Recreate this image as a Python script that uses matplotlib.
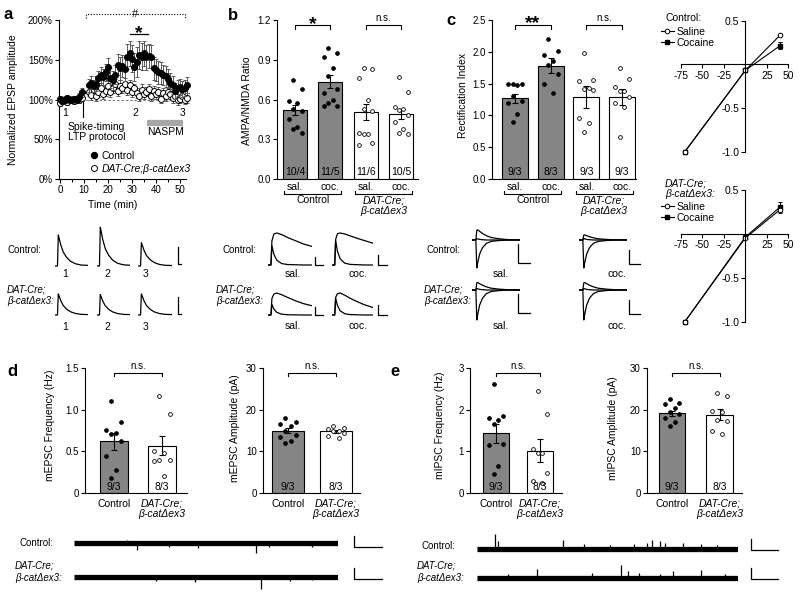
import matplotlib
matplotlib.use('Agg')
import matplotlib.pyplot as plt
import matplotlib.transforms as mtransforms
from matplotlib.lines import Line2D
import numpy as np

plt.rcParams['font.family'] = ['Liberation Sans', 'DejaVu Sans']
plt.rcParams['font.size'] = 7
plt.rcParams['axes.unicode_minus'] = False
plt.rcParams['axes.linewidth'] = 0.8
plt.rcParams['xtick.major.width'] = 0.8
plt.rcParams['ytick.major.width'] = 0.8
plt.rcParams['xtick.major.size'] = 3
plt.rcParams['ytick.major.size'] = 3
plt.rcParams['xtick.labelsize'] = 7
plt.rcParams['ytick.labelsize'] = 7
plt.rcParams['xtick.major.pad'] = 1.5
plt.rcParams['ytick.major.pad'] = 1.5

W, H = 800, 596
GRAY = '#858585'
FS = 7

# ---- panel a: LTP time course ----
ltp_time = list(range(0, 10)) + list(range(12, 54))
ctrl_ltp = [101, 98, 100, 102, 99, 100, 101, 100, 103, 109,
            118, 121, 117, 120, 127, 131, 128, 134, 141, 127,
            124, 131, 144, 139, 142, 138, 154, 158, 151, 141,
            147, 156, 154, 158, 153, 155, 154, 139, 137, 134,
            133, 131, 129, 126, 121, 118, 111, 114, 116, 113,
            115, 118]
ctrl_err = [4, 4, 4, 4, 4, 4, 4, 4, 5, 6,
            8, 8, 8, 9, 9, 10, 10, 11, 11, 12,
            12, 12, 13, 14, 14, 15, 16, 16, 17, 18,
            19, 18, 17, 16, 16, 15, 15, 15, 14, 14,
            14, 13, 13, 12, 12, 11, 10, 10, 10, 10,
            10, 10]
dat_ltp = [96, 98, 100, 97, 99, 101, 98, 100, 99, 102,
           110, 106, 112, 104, 109, 114, 107, 111, 117, 109,
           114, 119, 111, 117, 114, 120, 112, 118, 109, 114,
           108, 104, 112, 107, 110, 113, 104, 111, 107, 110,
           101, 108, 104, 110, 107, 102, 105, 99, 101, 104,
           100, 102]
dat_err = [4, 4, 3, 4, 4, 3, 4, 4, 4, 4,
           6, 6, 7, 6, 6, 7, 6, 6, 7, 6,
           6, 7, 6, 7, 6, 7, 6, 7, 6, 6,
           6, 6, 7, 6, 6, 6, 6, 6, 6, 6,
           6, 6, 6, 6, 6, 6, 6, 6, 6, 6,
           6, 6]

# ---- panel b: AMPA/NMDA ----
b_groups = ['sal.', 'coc.', 'sal.', 'coc.']
b_vals = [0.52, 0.735, 0.505, 0.49]
b_sem = [0.04, 0.05, 0.06, 0.04]
b_pts = [[0.75, 0.68, 0.59, 0.57, 0.53, 0.51, 0.45, 0.39, 0.38, 0.35],
         [0.99, 0.95, 0.92, 0.84, 0.78, 0.68, 0.65, 0.60, 0.57, 0.55, 0.55],
         [0.84, 0.83, 0.76, 0.60, 0.53, 0.51, 0.35, 0.34, 0.34, 0.27, 0.26],
         [0.77, 0.66, 0.54, 0.53, 0.52, 0.48, 0.43, 0.38, 0.35, 0.34]]
b_n = ['10/4', '11/5', '11/6', '10/5']

# ---- panel c: rectification ----
c_vals = [1.27, 1.78, 1.29, 1.29]
c_sem = [0.07, 0.12, 0.17, 0.12]
c_pts = [[1.50, 1.50, 1.50, 1.48, 1.30, 1.22, 1.20, 1.02, 0.90],
         [2.20, 2.01, 1.95, 1.85, 1.80, 1.65, 1.50, 1.36],
         [1.98, 1.56, 1.54, 1.43, 1.41, 1.40, 0.96, 0.88, 0.74],
         [1.74, 1.58, 1.45, 1.39, 1.38, 1.29, 1.19, 1.13, 0.66]]
c_n = ['9/3', '8/3', '9/3', '9/3']

iv_mv = [-70, 0, 40]
ctrl_sal_iv = [-1.0, -0.07, 0.33]
ctrl_sal_err = [0, 0.01, 0.01]
ctrl_coc_iv = [-1.0, -0.07, 0.21]
ctrl_coc_err = [0, 0.01, 0.04]
dat_sal_iv = [-1.0, -0.05, 0.27]
dat_sal_err = [0, 0.01, 0.02]
dat_coc_iv = [-1.0, -0.04, 0.30]
dat_coc_err = [0, 0.01, 0.06]

# ---- panels d, e ----
de_groups = ['Control', 'DAT-Cre;\nβ-catΔex3']
d_freq_vals = [0.62, 0.57]
d_freq_sem = [0.10, 0.11]
d_freq_pts = [[1.11, 0.85, 0.76, 0.72, 0.71, 0.62, 0.44, 0.28, 0.18],
              [1.17, 0.95, 0.50, 0.48, 0.40, 0.40, 0.38, 0.20]]
d_amp_vals = [15.0, 14.8]
d_amp_sem = [0.7, 0.4]
d_amp_pts = [[18.0, 17.0, 16.6, 16.0, 15.0, 14.0, 13.5, 12.5, 12.0],
             [16.0, 15.6, 15.3, 15.0, 14.8, 14.5, 13.6, 13.2]]
e_freq_vals = [1.43, 1.02]
e_freq_sem = [0.22, 0.28]
e_freq_pts = [[2.62, 1.85, 1.80, 1.75, 1.65, 1.17, 1.15, 0.65, 0.45],
              [2.45, 1.90, 1.05, 0.95, 0.95, 0.48, 0.28, 0.25]]
e_amp_vals = [19.1, 18.8]
e_amp_sem = [0.7, 1.3]
e_amp_pts = [[22.5, 21.5, 21.3, 20.5, 19.5, 19.0, 18.0, 17.0, 16.2],
             [24.0, 23.4, 19.8, 19.4, 17.5, 17.2, 14.8, 14.2]]
de_n = ['9/3', '8/3']

# ---- example traces (shapes) ----
epsp_t = [0, 3, 4, 5, 7, 10, 14, 19, 25, 32, 40]
epsp_v = [0, 0, 1.0, 0.9, 0.68, 0.45, 0.28, 0.15, 0.07, 0.03, 0.02]
ctrl_epsp_amp = [1.0, 1.25, 0.75]
dat_epsp_amp = [0.68, 0.66, 0.68]

an_t = [0, 3, 4, 6, 9, 14, 20, 28, 36, 45]
an_fast = [0, 0, 0.8, 0.45, 0.2, 0.06, 0.02, 0.01, 0, 0]
an_fast_amp = [0.75, 0.95, 0.6, 0.95]
an_slow_ctrl_sal = [0, 0, 0.75, 0.97, 1.0, 0.95, 0.86, 0.76, 0.66, 0.58]
an_slow_ctrl_coc = [0, 0, 0.8, 0.98, 1.0, 0.97, 0.91, 0.83, 0.76, 0.68]
an_slow_dat_sal = [0, 0, 0.75, 0.95, 1.0, 0.92, 0.8, 0.65, 0.52, 0.42]
an_slow_dat_coc = [0, 0, 0.8, 0.97, 1.0, 0.9, 0.76, 0.6, 0.46, 0.34]

rect_t = [0, 4, 5, 6, 8, 11, 15, 20, 28, 38, 50]
rect_neg = [0, 0, -1.0, -0.8, -0.5, -0.27, -0.12, -0.05, -0.02, 0, 0]
rect_pos = [0, 0, 0.32, 0.33, 0.28, 0.21, 0.14, 0.08, 0.04, 0.01, 0]
rect_zero = [0, 0, 0.05, 0.04, 0.02, 0.01, 0, 0, 0, 0, 0]
rect_pos_amp = [1.1, 0.55, 0.75, 0.75]

# spontaneous events: position along trace (0-1) and size
d_ctrl_ev = [0.2, 0.24, 0.36, 0.47, 0.69, 0.74, 0.9]
d_ctrl_amp = [3, -7, -4, -5, -10, -4, -4]
d_dat_ev = [0.31, 0.46, 0.71, 0.82, 0.9]
d_dat_amp = [-4, -5, -12, -4, -3]
e_ctrl_ev = [0.07, 0.08, 0.33, 0.41, 0.51, 0.6, 0.65, 0.67, 0.7, 0.72, 0.79, 0.86, 0.92]
e_ctrl_amp = [15, 8, 9, 5, 4, 5, 6, 9, 8, 6, 6, 5, 4]
e_dat_ev = [0.12, 0.23, 0.44, 0.55, 0.58, 0.62, 0.7, 0.75, 0.86, 0.95]
e_dat_amp = [4, 9, 5, 13, 7, 5, 4, 7, 8, 4]

fig = plt.figure(figsize=(8, 5.96), dpi=100)


def px_axes(x0, y0, x1, y1):
    return fig.add_axes([x0 / W, 1 - y1 / H, (x1 - x0) / W, (y1 - y0) / H])


def ftext(x, y, s, **kw):
    kw.setdefault('va', 'center')
    fig.text(x / W, 1 - y / H, s, **kw)


ov = px_axes(0, 0, W, H)
ov.set_xlim(0, W)
ov.set_ylim(H, 0)
ov.axis('off')


def scalebar(x, y_top, y_bot, x_end):
    ov.plot([x, x, x_end], [y_top, y_bot, y_bot], color='k', lw=0.9)


def clean(ax):
    ax.spines['top'].set_visible(False)
    ax.spines['right'].set_visible(False)


def bracket(ax, x0, x1, y, drop, text, ty, star=False):
    ax.plot([x0, x0, x1, x1], [y - drop, y, y, y - drop], color='k', lw=0.8, clip_on=False)
    if star:
        ax.text((x0 + x1) / 2, ty, text, ha='center', va='baseline', fontsize=14,
                fontweight='bold', clip_on=False)
    else:
        ax.text((x0 + x1) / 2, ty, text, ha='center', va='center', fontsize=FS, clip_on=False)


OFFS = [-0.09, 0.27, -0.27, 0.09]


def bar_panel(ax, vals, sems, pts, filled, nlab, width, xlim, ylim, yticks, ytl):
    for i, v in enumerate(vals):
        ax.bar(i, v, width, color=GRAY if filled[i] else 'white', edgecolor='k',
               linewidth=0.8, zorder=1)
    ax.errorbar(range(len(vals)), vals, yerr=sems, fmt='none', ecolor='k',
                elinewidth=0.8, capsize=2.5, capthick=0.8, zorder=3)
    for i, p in enumerate(pts):
        p = sorted(p, reverse=True)
        xs = [i + OFFS[k % 4] * width for k in range(len(p))]
        ax.plot(xs, p, 'o', ms=2.7, mfc='k' if filled[i] else 'white', mec='k',
                mew=0.6, ls='none', zorder=4, clip_on=False)
        ax.text(i, ylim[1] * 0.012, nlab[i], ha='center', va='bottom', fontsize=7.5, zorder=5)
    ax.set_xlim(*xlim)
    ax.set_ylim(*ylim)
    ax.set_yticks(yticks)
    ax.set_yticklabels(ytl)
    clean(ax)


# ================= panel a =================
ax = px_axes(59, 20, 186, 179)
ax.plot([11, 53], [100, 100], ls=(0, (2.5, 2)), color='0.45', lw=0.7, zorder=1)
ax.errorbar(ltp_time, dat_ltp, yerr=dat_err, fmt='o', ms=4.3, mfc='white', mec='k',
            mew=0.7, ecolor='0.35', elinewidth=0.7, capsize=1.5, capthick=0.7,
            zorder=3, clip_on=False)
ax.errorbar(ltp_time, ctrl_ltp, yerr=ctrl_err, fmt='o', ms=4.3, mfc='k', mec='k',
            mew=0.7, ecolor='0.35', elinewidth=0.7, capsize=1.5, capthick=0.7,
            zorder=4, clip_on=False)
ax.set_xlim(-0.4, 52.5)
ax.set_ylim(0, 200)
ax.set_yticks([0, 50, 100, 150, 200])
ax.set_yticklabels(['0%', '50%', '100%', '150%', '200%'])
ax.set_xticks(range(0, 51, 10))
ax.set_xticks(range(5, 51, 10), minor=True)
ax.tick_params(which='minor', length=2, width=0.8)
ax.spines['bottom'].set_bounds(0, 52.5)
clean(ax)
ax.plot([9.5, 9.5], [78, 100], color='k', lw=0.8)
ax.text(2, 83, '1', ha='center', va='center', fontsize=7.5)
ax.text(31.6, 83, '2', ha='center', va='center', fontsize=7.5)
ax.text(51, 83, '3', ha='center', va='center', fontsize=7.5)
ax.text(3.2, 65, 'Spike-timing', ha='left', va='center', fontsize=7.5)
ax.text(3.2, 53, 'LTP protocol', ha='left', va='center', fontsize=7.5)
ax.plot([36.4, 51.3], [70, 70], color='0.65', lw=4.5, solid_capstyle='butt')
ax.text(43.8, 59, 'NASPM', ha='center', va='center', fontsize=7.5)
ax.plot([29.3, 36.8], [182, 182], color='k', lw=0.9, clip_on=False)
ax.text(33, 177, '*', ha='center', va='baseline', fontsize=14, fontweight='bold', clip_on=False)
ax.plot([10.8, 10.8, 52, 52], [203, 207, 207, 203], ls=(0, (1, 1.5)), color='k', lw=0.8,
        clip_on=False)
ax.text(31.2, 207, '#', ha='center', va='center', fontsize=8,
        bbox=dict(fc='white', ec='none', pad=0.3), clip_on=False)
h1 = Line2D([], [], ls='none', marker='o', ms=4.3, mfc='k', mec='k')
h2 = Line2D([], [], ls='none', marker='o', ms=4.3, mfc='white', mec='k', mew=0.7)
leg = ax.legend([h1, h2], ['Control', 'DAT-Cre;β-catΔex3'], loc='upper left',
                bbox_to_anchor=(90 / W, 1 - 151 / H), bbox_transform=fig.transFigure,
                frameon=False, handlelength=0.8, handletextpad=0.35, labelspacing=0.25,
                borderpad=0, borderaxespad=0, fontsize=7.5)
leg.get_texts()[1].set_style('italic')
ftext(13, 100, 'Normalized EPSP amplitude', rotation=90, ha='center', fontsize=7.5)
ftext(113, 205, 'Time (min)', ha='center', fontsize=7.5)

# ================= panel b =================
ax = px_axes(277, 20, 418, 179)
bar_panel(ax, b_vals, b_sem, b_pts, [True, True, False, False], b_n, 0.68,
          (-0.51, 3.48), (0, 1.2), [0, 0.3, 0.6, 0.9, 1.2],
          ['0.0', '0.3', '0.6', '0.9', '1.2'])
ax.set_xticks(range(4))
ax.set_xticklabels(b_groups, fontsize=7.5)
ax.tick_params(axis='x', length=0, pad=2)
bracket(ax, 0, 1, 1.16, 0.03, '*', 1.13, star=True)
bracket(ax, 2, 3, 1.16, 0.03, 'n.s.', 1.215)
ftext(247, 101, 'AMPA/NMDA Ratio', rotation=90, ha='center', fontsize=7.5)

# ================= panel c =================
axc = px_axes(492, 20, 636, 179)
bar_panel(axc, c_vals, c_sem, c_pts, [True, True, False, False], c_n, 0.73,
          (-0.645, 3.39), (0, 2.5), [0, 0.5, 1.0, 1.5, 2.0, 2.5],
          ['0.0', '0.5', '1.0', '1.5', '2.0', '2.5'])
axc.set_xticks(range(4))
axc.set_xticklabels(b_groups, fontsize=7.5)
axc.tick_params(axis='x', length=0, pad=2)
bracket(axc, 0, 1, 2.42, 0.06, '**', 2.37, star=True)
bracket(axc, 2, 3, 2.42, 0.06, 'n.s.', 2.53)
ftext(463, 95, 'Rectification Index', rotation=90, ha='center', fontsize=7.5)

for a_ in (ax, axc):
    tr = mtransforms.blended_transform_factory(a_.transData, fig.transFigure)
    for g0, lab, sty in ((0, 'Control', 'normal'), (2, 'DAT-Cre;\nβ-catΔex3', 'italic')):
        a_.plot([g0 - 0.3, g0 - 0.3, g0 + 1.3, g0 + 1.3],
                [1 - 191 / H, 1 - 193.5 / H, 1 - 193.5 / H, 1 - 191 / H],
                color='k', lw=0.8, transform=tr, clip_on=False)
        a_.text(g0 + 0.5, 1 - 195 / H, lab, ha='center', va='top', style=sty,
                transform=tr, linespacing=1.1, fontsize=7.5)


# ================= I-V curves =================
def iv_panel(ax, sal, sal_err, coc, coc_err):
    ax.errorbar(iv_mv, coc, yerr=coc_err, marker='s', ms=3, mfc='k', mec='k',
                color='k', lw=0.8, elinewidth=0.7, capsize=1.5, capthick=0.7, clip_on=False)
    ax.errorbar(iv_mv, sal, yerr=sal_err, marker='o', ms=3.3, mfc='white', mec='k',
                mew=0.7, color='k', lw=0.8, elinewidth=0.7, capsize=1.5, capthick=0.7,
                clip_on=False)
    ax.set_xlim(-78, 53)
    ax.set_ylim(-1.05, 0.53)
    ax.spines['left'].set_position(('data', 0))
    ax.spines['bottom'].set_position(('data', 0))
    ax.spines['left'].set_bounds(-1.0, 0.5)
    ax.spines['bottom'].set_bounds(-75, 50)
    clean(ax)
    ax.set_xticks([-75, -50, -25, 25, 50])
    ax.set_xticklabels(['-75', '-50', '-25', '25', '50'], fontsize=7.5)
    ax.set_yticks([-1.0, -0.5, 0.5])
    ax.set_yticklabels(['-1.0', '-0.5', '0.5'], fontsize=7.5)
    ax.patch.set_visible(False)


iv1 = px_axes(678, 18, 791, 156)
iv_panel(iv1, ctrl_sal_iv, ctrl_sal_err, ctrl_coc_iv, ctrl_coc_err)
iv2 = px_axes(678, 187, 791, 326)
iv_panel(iv2, dat_sal_iv, dat_sal_err, dat_coc_iv, dat_coc_err)

hs = Line2D([], [], marker='o', ms=3.3, mfc='white', mec='k', mew=0.7, color='k', lw=0.8)
hc = Line2D([], [], marker='s', ms=3, mfc='k', mec='k', color='k', lw=0.8)
for ytop in (27, 202):
    fig.legend([hs, hc], ['Saline', 'Cocaine'], loc='upper left',
               bbox_to_anchor=(661 / W, 1 - ytop / H), frameon=False, handlelength=1.2,
               handletextpad=0.3, labelspacing=0.05, borderpad=0, borderaxespad=0,
               fontsize=7.5)
ftext(665, 18, 'Control:', fontsize=7.5)
ftext(665, 183, 'DAT-Cre;', style='italic', fontsize=7.5)
ftext(665, 194, 'β-catΔex3:', style='italic', fontsize=7.5)


# ================= example traces =================
def trace_ax(x0, x1, y_base, ppu, lo, hi, tmax):
    a_ = px_axes(x0, y_base - hi * ppu, x1, y_base - lo * ppu)
    a_.set_xlim(0, tmax)
    a_.set_ylim(lo, hi)
    a_.axis('off')
    return a_


# panel a traces
a_x = [(55, 88), (97, 130), (138, 172)]
for (x0, x1), amp in zip(a_x, ctrl_epsp_amp):
    t_ax = trace_ax(x0, x1, 266, 31, -0.1, 1.4, 40)
    t_ax.plot(epsp_t, np.array(epsp_v) * amp, color='k', lw=0.9)
for (x0, x1), amp in zip(a_x, dat_epsp_amp):
    t_ax = trace_ax(x0, x1, 315, 31, -0.1, 1.4, 40)
    t_ax.plot(epsp_t, np.array(epsp_v) * amp, color='k', lw=0.9)
for k, lab in enumerate(['1', '2', '3']):
    ftext([65, 107, 146][k], 274, lab, ha='center', fontsize=7.5)
    ftext([65, 107, 146][k], 327, lab, ha='center', fontsize=7.5)
scalebar(178, 247, 264, 181)
scalebar(178, 297, 314, 181)
ftext(7, 250, 'Control:', fontsize=FS)
ftext(7, 290, 'DAT-Cre;', style='italic', fontsize=FS)
ftext(7, 301, 'β-catΔex3:', style='italic', fontsize=FS)

# panel b traces
b_x = [(268, 312), (332, 373)]
slow_rows = [[an_slow_ctrl_sal, an_slow_ctrl_coc], [an_slow_dat_sal, an_slow_dat_coc]]
for r, (yb, ppu) in enumerate([(265, 32), (315, 22)]):
    for c_, (x0, x1) in enumerate(b_x):
        t_ax = trace_ax(x0, x1, yb, ppu, -0.1, 1.2, 45)
        t_ax.plot(an_t, slow_rows[r][c_], color='k', lw=0.9)
        t_ax.plot(an_t, np.array(an_fast) * an_fast_amp[2 * r + c_], color='k', lw=0.9)
for yb, yl in ((265, 274), (315, 326)):
    ftext(293, yl, 'sal.', ha='center', fontsize=7.5)
    ftext(358, yl, 'coc.', ha='center', fontsize=7.5)
    scalebar(315, yb - 8, yb, 323)
    scalebar(378, yb - 10, yb, 387)
ftext(222, 250, 'Control:', fontsize=FS)
ftext(216, 290, 'DAT-Cre;', style='italic', fontsize=FS)
ftext(216, 301, 'β-catΔex3:', style='italic', fontsize=FS)

# panel c traces
c_x = [(472, 520), (579, 627)]
for r, (yb, ppu) in enumerate([(240, 28), (290, 30)]):
    for c_, (x0, x1) in enumerate(c_x):
        t_ax = trace_ax(x0, x1, yb, ppu, -1.1, 0.5, 50)
        t_ax.plot(rect_t, rect_neg, color='k', lw=0.9)
        t_ax.plot(rect_t, rect_zero, color='k', lw=0.9)
        t_ax.plot(rect_t, np.array(rect_pos) * rect_pos_amp[2 * r + c_], color='k', lw=0.9)
for yb, yl in ((240, 274), (290, 326)):
    ftext(501, yl, 'sal.', ha='center', fontsize=7.5)
    ftext(617, yl, 'coc.', ha='center', fontsize=7.5)
    scalebar(518, yb + 4, yb + 23, 530)
    scalebar(629, yb + 10, yb + 24, 640)
ftext(427, 250, 'Control:', fontsize=FS)
ftext(424, 290, 'DAT-Cre;', style='italic', fontsize=FS)
ftext(424, 301, 'β-catΔex3:', style='italic', fontsize=FS)


# ================= panels d and e =================
def de_panel(box, vals, sems, pts, width, xlim, ylim, yticks, ytl, br_y, drop, ns_y):
    a_ = px_axes(*box)
    bar_panel(a_, vals, sems, pts, [True, False], de_n, width, xlim, ylim, yticks, ytl)
    a_.set_xticks([0, 1])
    a_.set_xticklabels(de_groups, va='top', linespacing=1.1, fontsize=7.5)
    a_.get_xticklabels()[1].set_style('italic')
    a_.tick_params(axis='x', length=0, pad=4)
    bracket(a_, 0, 1, br_y, drop, 'n.s.', ns_y)
    return a_


de_panel((85, 368, 187, 493), d_freq_vals, d_freq_sem, d_freq_pts, 0.58, (-0.6, 1.52),
         (0, 1.5), [0, 0.5, 1.0, 1.5], ['0', '0.5', '1.0', '1.5'], 1.44, 0.035, 1.52)
de_panel((263, 368, 360, 493), d_amp_vals, d_amp_sem, d_amp_pts, 0.65, (-0.52, 1.5),
         (0, 30), [0, 10, 20, 30], ['0', '10', '20', '30'], 28.8, 0.7, 30.4)
de_panel((470, 368, 562, 493), e_freq_vals, e_freq_sem, e_freq_pts, 0.57, (-0.59, 1.5),
         (0, 3), [0, 1, 2, 3], ['0', '1', '2', '3'], 2.88, 0.07, 3.04)
de_panel((647, 368, 742, 493), e_amp_vals, e_amp_sem, e_amp_pts, 0.56, (-0.53, 1.47),
         (0, 30), [0, 10, 20, 30], ['0', '10', '20', '30'], 28.8, 0.7, 30.4)
ftext(50, 425, 'mEPSC Frequency (Hz)', rotation=90, ha='center', fontsize=7.5)
ftext(235, 428, 'mEPSC Amplitude (pA)', rotation=90, ha='center', fontsize=7.5)
ftext(440, 425, 'mIPSC Frequency (Hz)', rotation=90, ha='center', fontsize=7.5)
ftext(613, 428, 'mIPSC Amplitude (pA)', rotation=90, ha='center', fontsize=7.5)

# spontaneous current traces
for (x0, x1, yb), ev, amp in (((74, 338, 543), d_ctrl_ev, d_ctrl_amp),
                              ((74, 338, 577), d_dat_ev, d_dat_amp),
                              ((477, 738, 549), e_ctrl_ev, e_ctrl_amp),
                              ((477, 738, 578), e_dat_ev, e_dat_amp)):
    t_ax = trace_ax(x0, x1, yb, 1, -16, 16, 1)
    t_ax.plot([0, 1], [0, 0], color='k', lw=3.8, solid_capstyle='butt')
    t_ax.vlines(ev, 0, amp, color='k', lw=0.9)
scalebar(354, 536, 547, 382)
scalebar(354, 568, 579, 382)
scalebar(751, 539, 550, 778)
scalebar(751, 568, 579, 778)
ftext(20, 543, 'Control:', fontsize=FS)
ftext(15, 566, 'DAT-Cre;', style='italic', fontsize=FS)
ftext(15, 578, 'β-catΔex3:', style='italic', fontsize=FS)
ftext(421, 546, 'Control:', fontsize=FS)
ftext(417, 566, 'DAT-Cre;', style='italic', fontsize=FS)
ftext(417, 578, 'β-catΔex3:', style='italic', fontsize=FS)

# panel letters
for lab, x, y in (('a', 8, 19), ('b', 233, 20), ('c', 451, 25), ('d', 12, 376), ('e', 395, 376)):
    ftext(x, y, lab, fontsize=12, fontweight='bold', ha='center', va='baseline')

fig.savefig('out.png', dpi=100)
